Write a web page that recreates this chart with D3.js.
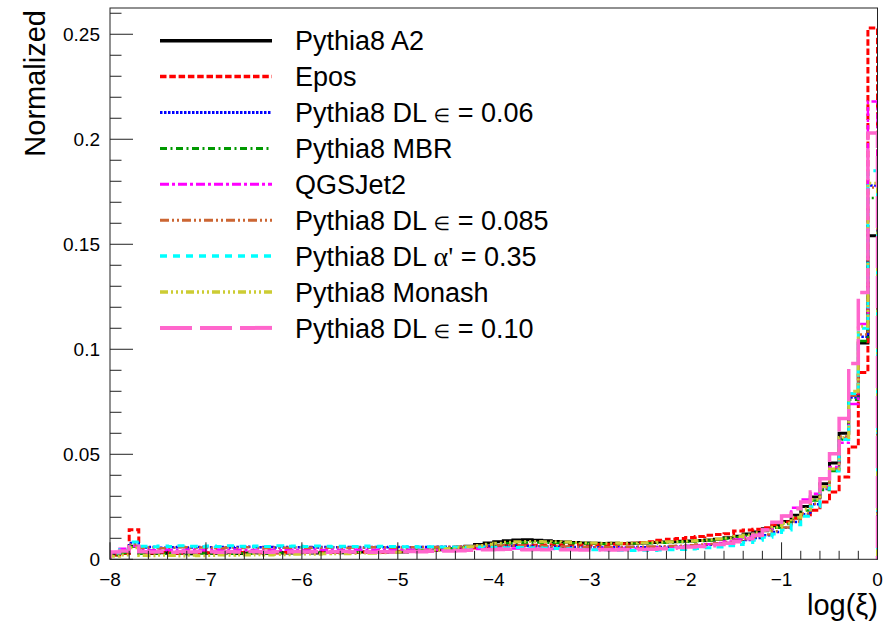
<!DOCTYPE html>
<html><head><meta charset="utf-8">
<script src="https://cdn.jsdelivr.net/npm/d3@7"></script>
<style>body{margin:0;background:#fff}svg{display:block}</style>
</head><body>
<svg id="c" width="886" height="628"></svg>
<script>
// ---------------- data ----------------
const binLow = -8, binHigh = 0, nBins = 80;
const xTickValues = [-8,-7,-6,-5,-4,-3,-2,-1,0];
const xTickLabels = ["\u22128","\u22127","\u22126","\u22125","\u22124","\u22123","\u22122","\u22121","0"];
const yTickValues = [0,0.05,0.1,0.15,0.2,0.25];
const yTickLabels = ["0","0.05","0.1","0.15","0.2","0.25"];
const xTitle = "log(\u03be)";
const yTitle = "Normalized";

const pythiaA2 = [0.0022,0.0030,0.0062,0.0030,0.0028,0.0031,0.0029,0.0030,0.0027,0.0031,
 0.0029,0.0030,0.0032,0.0028,0.0030,0.0031,0.0029,0.0032,0.0030,0.0031,
 0.0033,0.0030,0.0032,0.0034,0.0031,0.0033,0.0035,0.0032,0.0034,0.0036,
 0.0035,0.0038,0.0040,0.0042,0.0045,0.0050,0.0055,0.0062,0.0070,0.0078,
 0.0084,0.0088,0.0092,0.0093,0.0091,0.0088,0.0085,0.0082,0.0080,0.0078,
 0.0076,0.0075,0.0076,0.0075,0.0077,0.0078,0.0080,0.0082,0.0084,0.0086,
 0.0087,0.0089,0.0092,0.0096,0.0103,0.0110,0.0120,0.0130,0.0145,0.0160,
 0.0180,0.0210,0.0252,0.0297,0.0360,0.0459,0.0600,0.0780,0.1030,0.1540];
const epos = [0.0020,0.0028,0.0141,0.0032,0.0030,0.0033,0.0031,0.0029,0.0032,0.0030,
 0.0031,0.0033,0.0030,0.0032,0.0034,0.0031,0.0033,0.0030,0.0032,0.0034,
 0.0033,0.0035,0.0032,0.0034,0.0036,0.0033,0.0035,0.0037,0.0034,0.0036,
 0.0038,0.0040,0.0042,0.0044,0.0046,0.0048,0.0051,0.0054,0.0058,0.0061,
 0.0064,0.0066,0.0067,0.0068,0.0067,0.0068,0.0069,0.0068,0.0069,0.0068,
 0.0068,0.0070,0.0072,0.0074,0.0077,0.0080,0.0084,0.0091,0.0095,0.0099,
 0.0104,0.0109,0.0114,0.0118,0.0122,0.0135,0.0139,0.0143,0.0150,0.0165,
 0.0178,0.0195,0.0212,0.0233,0.0273,0.0320,0.0392,0.0535,0.0890,0.2530];
const dlEps006 = [0.0030,0.0042,0.0078,0.0056,0.0058,0.0055,0.0057,0.0059,0.0056,0.0058,
 0.0057,0.0059,0.0056,0.0058,0.0060,0.0057,0.0059,0.0056,0.0058,0.0057,
 0.0059,0.0056,0.0058,0.0057,0.0059,0.0058,0.0056,0.0058,0.0057,0.0059,
 0.0058,0.0057,0.0059,0.0058,0.0060,0.0059,0.0060,0.0061,0.0062,0.0063,
 0.0064,0.0065,0.0064,0.0063,0.0062,0.0061,0.0060,0.0059,0.0058,0.0058,
 0.0057,0.0056,0.0057,0.0056,0.0058,0.0057,0.0058,0.0059,0.0060,0.0061,
 0.0063,0.0066,0.0069,0.0073,0.0078,0.0084,0.0092,0.0102,0.0115,0.0130,
 0.0150,0.0178,0.0215,0.0262,0.0335,0.0425,0.0575,0.0770,0.1060,0.1780];
const mbr = [0.0020,0.0030,0.0060,0.0027,0.0029,0.0026,0.0028,0.0027,0.0029,0.0028,
 0.0028,0.0030,0.0027,0.0029,0.0028,0.0030,0.0029,0.0031,0.0030,0.0032,
 0.0031,0.0033,0.0032,0.0034,0.0033,0.0035,0.0036,0.0035,0.0037,0.0038,
 0.0040,0.0042,0.0044,0.0046,0.0049,0.0052,0.0056,0.0060,0.0065,0.0070,
 0.0074,0.0077,0.0079,0.0080,0.0080,0.0079,0.0078,0.0077,0.0076,0.0075,
 0.0074,0.0073,0.0074,0.0073,0.0075,0.0076,0.0077,0.0079,0.0080,0.0082,
 0.0084,0.0087,0.0090,0.0094,0.0099,0.0105,0.0113,0.0123,0.0135,0.0150,
 0.0168,0.0195,0.0232,0.0280,0.0330,0.0420,0.0570,0.0760,0.1040,0.1720];
const qgsjet2 = [0.0035,0.0050,0.0062,0.0045,0.0043,0.0046,0.0044,0.0042,0.0045,0.0043,
 0.0044,0.0046,0.0043,0.0045,0.0044,0.0042,0.0045,0.0043,0.0046,0.0044,
 0.0043,0.0045,0.0044,0.0046,0.0043,0.0045,0.0044,0.0046,0.0045,0.0043,
 0.0044,0.0046,0.0045,0.0044,0.0046,0.0047,0.0046,0.0048,0.0049,0.0050,
 0.0051,0.0052,0.0051,0.0050,0.0051,0.0050,0.0049,0.0050,0.0049,0.0050,
 0.0050,0.0051,0.0050,0.0052,0.0051,0.0053,0.0054,0.0056,0.0058,0.0060,
 0.0063,0.0067,0.0072,0.0078,0.0085,0.0094,0.0106,0.0122,0.0142,0.0175,
 0.0206,0.0245,0.0285,0.0312,0.0345,0.0440,0.0555,0.0740,0.1120,0.2180];
const dlEps0085 = [0.0028,0.0040,0.0070,0.0054,0.0056,0.0053,0.0055,0.0057,0.0054,0.0056,
 0.0055,0.0053,0.0056,0.0054,0.0057,0.0055,0.0053,0.0056,0.0055,0.0057,
 0.0054,0.0056,0.0055,0.0057,0.0054,0.0056,0.0055,0.0057,0.0056,0.0055,
 0.0056,0.0057,0.0058,0.0057,0.0059,0.0060,0.0061,0.0062,0.0064,0.0065,
 0.0066,0.0067,0.0066,0.0065,0.0064,0.0063,0.0062,0.0061,0.0060,0.0060,
 0.0059,0.0058,0.0059,0.0058,0.0060,0.0060,0.0061,0.0062,0.0063,0.0065,
 0.0067,0.0070,0.0073,0.0077,0.0082,0.0088,0.0096,0.0106,0.0118,0.0133,
 0.0152,0.0180,0.0218,0.0265,0.0338,0.0430,0.0585,0.0780,0.1070,0.1770];
const dlAlpha035 = [0.0030,0.0045,0.0082,0.0062,0.0060,0.0063,0.0061,0.0064,0.0062,0.0060,
 0.0063,0.0061,0.0064,0.0062,0.0060,0.0063,0.0061,0.0064,0.0062,0.0063,
 0.0061,0.0063,0.0062,0.0060,0.0062,0.0061,0.0063,0.0060,0.0062,0.0061,
 0.0060,0.0061,0.0059,0.0060,0.0058,0.0059,0.0058,0.0057,0.0058,0.0057,
 0.0056,0.0055,0.0056,0.0054,0.0055,0.0053,0.0052,0.0050,0.0049,0.0047,
 0.0046,0.0045,0.0044,0.0043,0.0042,0.0043,0.0042,0.0044,0.0045,0.0047,
 0.0049,0.0052,0.0055,0.0059,0.0064,0.0071,0.0080,0.0091,0.0105,0.0120,
 0.0140,0.0165,0.0205,0.0250,0.0335,0.0420,0.0570,0.0790,0.1100,0.1850];
const monash = [0.0015,0.0020,0.0055,0.0018,0.0017,0.0019,0.0018,0.0016,0.0019,0.0017,
 0.0018,0.0020,0.0019,0.0021,0.0020,0.0022,0.0021,0.0023,0.0022,0.0024,
 0.0025,0.0024,0.0026,0.0027,0.0026,0.0028,0.0030,0.0029,0.0031,0.0033,
 0.0035,0.0037,0.0040,0.0043,0.0046,0.0050,0.0055,0.0060,0.0066,0.0072,
 0.0077,0.0081,0.0084,0.0085,0.0085,0.0084,0.0083,0.0082,0.0080,0.0079,
 0.0078,0.0077,0.0078,0.0077,0.0078,0.0079,0.0080,0.0081,0.0083,0.0085,
 0.0087,0.0090,0.0093,0.0097,0.0102,0.0108,0.0116,0.0126,0.0138,0.0153,
 0.0172,0.0200,0.0240,0.0285,0.0345,0.0430,0.0580,0.0800,0.1110,0.1790];
const dlEps010 = [0.0035,0.0040,0.0060,0.0036,0.0035,0.0037,0.0034,0.0036,0.0035,0.0037,
 0.0036,0.0034,0.0036,0.0035,0.0037,0.0036,0.0034,0.0036,0.0035,0.0037,
 0.0035,0.0036,0.0034,0.0036,0.0037,0.0035,0.0036,0.0034,0.0036,0.0035,
 0.0036,0.0037,0.0036,0.0038,0.0039,0.0040,0.0041,0.0043,0.0045,0.0046,
 0.0047,0.0048,0.0047,0.0046,0.0047,0.0046,0.0045,0.0046,0.0045,0.0044,
 0.0044,0.0045,0.0044,0.0046,0.0045,0.0047,0.0048,0.0050,0.0053,0.0056,
 0.0058,0.0061,0.0065,0.0070,0.0076,0.0084,0.0098,0.0115,0.0140,0.0176,
 0.0206,0.0241,0.0273,0.0320,0.0384,0.0503,0.0670,0.0932,0.1270,0.2030];

// legend labels (parts: [text, kind])
const legendLabels = [
  [["Pythia8 A2",""]],
  [["Epos",""]],
  [["Pythia8 DL ",""],["\u2208","sym"],[" = 0.06",""]],
  [["Pythia8 MBR",""]],
  [["QGSJet2",""]],
  [["Pythia8 DL ",""],["\u2208","sym"],[" = 0.085",""]],
  [["Pythia8 DL ",""],["\u03b1'","greek"],[" = 0.35",""]],
  [["Pythia8 Monash",""]],
  [["Pythia8 DL ",""],["\u2208","sym"],[" = 0.10",""]]
];

// styles
const series = [
  {v: pythiaA2,   color:"#000000", w:3,   dash:null},
  {v: epos,       color:"#ff0000", w:3,   dash:"6.5 2.8"},
  {v: dlEps006,   color:"#0000ff", w:2.5, dash:"2.5 1.5"},
  {v: mbr,        color:"#009900", w:2.5, dash:"7 3.5 2 3.5"},
  {v: qgsjet2,    color:"#ff00ff", w:2.5, dash:"9 3 3 3"},
  {v: dlEps0085,  color:"#cc6633", w:2.5, dash:"9 3 2 3 2 3"},
  {v: dlAlpha035, color:"#00ffff", w:3,   dash:"7 6"},
  {v: monash,     color:"#cccc33", w:3,   dash:"8 3 2 3 2 3 2 3"},
  {v: dlEps010,   color:"#ff66cc", w:3.5, dash:"32 8"}
];

// ---------------- chart ----------------
const svg = d3.select("#c");
const L = 110, R = 877.5, T = 8, B = 559.3;
const x = d3.scaleLinear().domain([binLow, binHigh]).range([L, R]);
const y = d3.scaleLinear().domain([0, 0.2625]).range([B, T]);
const font = "'Liberation Sans', Arial, sans-serif";

svg.append("defs").append("clipPath").attr("id","clip")
  .append("rect").attr("x",L).attr("y",T).attr("width",R-L).attr("height",B-T);

const bw = (binHigh - binLow) / nBins;
const line = d3.line().x(d => x(d[0])).y(d => y(d[1]));
const g = svg.append("g").attr("clip-path","url(#clip)");
series.forEach(s => {
  const pts = [[binLow, 0]];
  s.v.forEach((val, i) => {
    const a = binLow + i*bw, b = binLow + (i+1)*bw;
    pts.push([a, val]); pts.push([b, val]);
  });
  pts.push([binHigh, 0]);
  g.append("path").attr("d", line(pts)).attr("fill","none")
    .attr("stroke", s.color).attr("stroke-width", s.w)
    .attr("stroke-dasharray", s.dash).attr("stroke-linejoin","miter");
});

// frame
svg.append("rect").attr("x",L).attr("y",T).attr("width",R-L).attr("height",B-T)
  .attr("fill","none").attr("stroke","#222").attr("stroke-width",1);

// x ticks
const xMinor = d3.range(0, 41).map(k => binLow + k*0.2);
svg.append("g").selectAll("line").data(xMinor).join("line")
  .attr("x1", d => x(d)).attr("x2", d => x(d))
  .attr("y1", B).attr("y2", (d,i) => B - (i % 5 === 0 ? 17 : 8.5))
  .attr("stroke","#222").attr("stroke-width",1);
svg.append("g").selectAll("text").data(xTickValues).join("text")
  .attr("x", d => x(d)).attr("y", 586).attr("text-anchor","middle")
  .attr("font-family", font).attr("font-size", 19).attr("fill","#000")
  .text((d,i) => xTickLabels[i]);

// y ticks
const yMinor = d3.range(0, 27).map(k => k*0.01);
svg.append("g").selectAll("line").data(yMinor).join("line")
  .attr("y1", d => y(d)).attr("y2", d => y(d))
  .attr("x1", L).attr("x2", (d,i) => L + (i % 5 === 0 ? 23 : 11.5))
  .attr("stroke","#222").attr("stroke-width",1);
svg.append("g").selectAll("text").data(yTickValues).join("text")
  .attr("x", 100).attr("y", d => y(d) + 7).attr("text-anchor","end")
  .attr("font-family", font).attr("font-size", 19).attr("fill","#000")
  .text((d,i) => yTickLabels[i]);

// titles
svg.append("text").attr("transform","translate(45,10) rotate(-90)")
  .attr("text-anchor","end").attr("font-family",font).attr("font-size",29)
  .text(yTitle);
svg.append("text").attr("x",878).attr("y",615).attr("text-anchor","end")
  .attr("font-family",font).attr("font-size",29).text(xTitle);

// legend
const lg = svg.append("g");
series.forEach((s, k) => {
  const ry = 40.7 + k*35.9;
  lg.append("line").attr("x1",160).attr("x2",272).attr("y1",ry).attr("y2",ry)
    .attr("stroke", s.color).attr("stroke-width", s.w + 0.5)
    .attr("stroke-dasharray", s.dash);
  const t = lg.append("text").attr("x",295).attr("y",ry+9.6)
    .attr("font-family",font).attr("font-size",27).attr("fill","#000");
  legendLabels[k].forEach(p => {
    const ts = t.append("tspan").text(p[0]);
    if (p[1] === "sym") ts.attr("font-size",19).attr("font-family","'DejaVu Sans', sans-serif");
    if (p[1] === "greek") ts.attr("font-family","'Liberation Serif', serif").attr("font-size",28);
  });
});
</script>
</body></html>
